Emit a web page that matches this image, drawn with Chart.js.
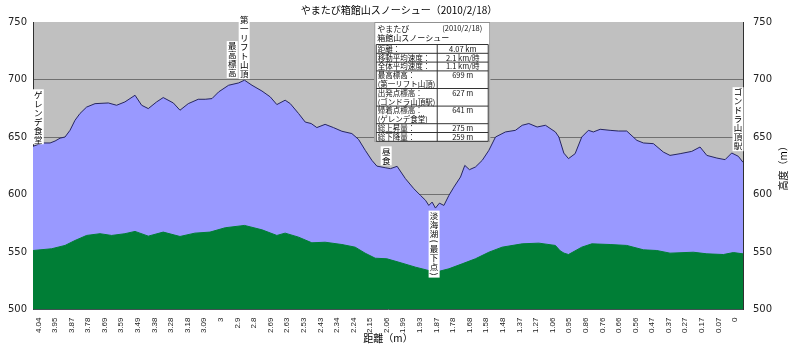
<!DOCTYPE html>
<html>
<head>
<meta charset="utf-8">
<title>やまたび箱館山スノーシュー</title>
<script src="https://cdn.jsdelivr.net/npm/chart.js@4.4.1/dist/chart.umd.min.js"></script>
<style>
  html, body { margin: 0; padding: 0; background: #fff; }
</style>
</head>
<body>
<canvas id="profileChart" width="794" height="351"></canvas>
<script>
// distance labels (km), one per tick step
const tickLabels = ['4.04','3.95','3.87','3.78','3.69','3.59','3.49','3.38','3.28','3.18',
  '3.09','3','2.9','2.8','2.69','2.63','2.53','2.43','2.34','2.24',
  '2.15','2.06','1.99','1.93','1.87','1.78','1.68','1.58','1.48','1.37',
  '1.27','1.06','0.95','0.86','0.76','0.66','0.56','0.47','0.37','0.27',
  '0.17','0.07','0'];

// elevation profile: position along the axis (in tick steps) and height (m)
const profilePos = [-0.32,0,0.3,0.71,1.01,1.31,1.61,1.91,2.21,2.51,2.91,3.42,4.22,4.72,5.22,5.83,6.23,6.63,7.13,7.53,
  8.14,8.54,9.04,9.64,10.06,10.47,10.87,11.47,12.07,12.43,12.88,13.48,13.98,14.38,14.88,15.19,15.69,16.09,16.45,16.79,
  17.29,17.79,18.3,18.9,19.3,19.71,20.11,20.41,20.91,21.23,21.63,22.13,22.64,23.04,23.34,23.54,23.74,23.94,24.18,24.45,
  24.75,25.05,25.45,25.71,25.99,26.35,26.76,27.16,27.56,28.16,28.76,29.17,29.57,30.07,30.57,31.17,31.38,31.68,31.96,32.36,
  32.76,33.16,33.46,33.87,34.47,34.97,35.47,36.08,36.48,37.08,37.68,38.08,38.69,39.39,39.89,40.3,40.9,41.4,41.8,42.2,42.48];
const elevation = [641.9,643.6,644.8,644.8,646.5,649,650,655.8,664.5,670.4,676,679,679.6,677.6,680.5,686.3,677.6,674.7,680.5,684.3,
  679.6,673.3,679,682.8,682.8,683.4,689.2,695,697,699.4,695,690,684.9,678.2,682,679,670.4,663,661.7,658.2,
  661,658.2,655,653,648,638.4,629.7,624.7,623.3,622.5,624.5,613.8,605,599.2,595,590.5,593.4,588.2,592.5,590.5,
  599.2,606.4,615.2,625.3,621.6,623.9,629.7,638.4,650,654.4,655.8,660.2,661.7,658.7,660.2,654.4,650,636,631.2,635.5,
  650,655.8,654.4,656.7,655.8,655.2,655.2,647.1,644.8,644.2,636.9,634,635.5,637.5,641.3,634,631.7,630.3,636.1,633.2,628];

// lower (green) series
const lowerPos = [-0.32,0.8,1.61,2.21,2.91,3.72,4.42,5.22,5.83,6.63,7.53,8.54,9.44,10.35,11.27,12.43,13.48,14.38,14.88,15.69,
  16.49,17.29,18.3,19.1,19.7,20.31,21.01,21.74,22.74,23.94,24.75,25.55,26.35,27.16,27.96,29.17,30.17,31.17,31.46,31.69,
  31.96,32.76,33.37,34.47,35.47,36.48,37.28,38.08,39.49,40.3,41.3,41.9,42.48];
const lower = [551.3,552.8,555.7,560,564.4,565.9,564.4,565.9,567.9,563.8,567.3,563.5,566.4,567.3,571.1,573.1,569.3,564.4,566.4,562.9,
  558,558.5,556.5,554.2,549,544.6,544.1,541.1,536.8,532.4,535.4,539.7,544.1,549.8,554.2,557.1,557.7,555.7,551,549,
  547.8,554.2,557.1,556.5,555.7,551.9,551.3,549,549.8,548.4,547.8,549.5,548.4];

// vertical place names: position (tick steps) and top of the label (m)
const notes = [
  { text: 'ゲレンデ食堂', x: 0, top: 691.5 },
  { text: '最高標高', x: 11.69, top: 733.4 },
  { text: '第一リフト山頂', x: 12.41, top: 756 },
  { text: '昼食', x: 20.97, top: 641.9 },
  { text: '淡海湖(最下点)', x: 23.86, top: 586 },
  { text: 'ゴンドラ山頂駅', x: 42.18, top: 693.3 }
];

const infoHead = ['やまたび', '箱館山スノーシュー'];
const infoDate = '(2010/2/18)';
const infoRows = [
  [['距離：'], '4.07 km'],
  [['移動平均速度：'], '2.1 km/時'],
  [['全体平均速度：'], '1.1 km/時'],
  [['最高標高：', '(第一リフト山頂)'], '699 m'],
  [['出発点標高：', '(ゴンドラ山頂駅)'], '627 m'],
  [['帰着点標高：', '(ゲレンデ食堂)'], '641 m'],
  [['総上昇量：'], '275 m'],
  [['総下降量：'], '259 m']
];

const JP = '"Noto Sans CJK JP", "Noto Sans", sans-serif';

const toPts = (xs, ys) => xs.map((x, i) => ({ x: x, y: ys[i] }));

// grey plot background
const plotBg = {
  id: 'plotBg',
  beforeDraw(chart) {
    const a = chart.chartArea, c = chart.ctx;
    c.save();
    c.fillStyle = '#c0c0c0';
    c.fillRect(a.left, a.top, a.right - a.left, a.bottom - a.top);
    c.restore();
  }
};

// title, place names, info box, right axis title
const overlay = {
  id: 'overlay',
  afterDraw(chart) {
    const c = chart.ctx, a = chart.chartArea;
    const xs = chart.scales.x, ys = chart.scales.y;
    c.save();

    c.fillStyle = '#000';
    c.font = '10px ' + JP;
    c.textAlign = 'center';
    c.textBaseline = 'middle';
    c.fillText('やまたび箱館山スノーシュー（2010/2/18）', 399, 10);

    // vertical labels, brackets turned sideways
    notes.forEach(n => {
      const cx = xs.getPixelForValue(n.x);
      const top = ys.getPixelForValue(n.top);
      const chars = Array.from(n.text);
      const steps = chars.map(ch => (ch === '(' || ch === ')') ? 6 : 9);
      const h = steps.reduce((s, v) => s + v, 0);
      c.fillStyle = '#fff';
      c.fillRect(cx - 5.5, top, 11, h + 1);
      c.fillStyle = '#000';
      c.font = '8.5px ' + JP;
      let y = top;
      chars.forEach((ch, i) => {
        const cy = y + steps[i] / 2 + 0.5;
        if (ch === '(' || ch === ')') {
          c.save();
          c.translate(cx, cy);
          c.rotate(Math.PI / 2);
          c.fillText(ch, 0, 0);
          c.restore();
        } else {
          c.fillText(ch, cx, cy);
        }
        y += steps[i];
      });
    });

    // info box
    const L = xs.getPixelForValue(20.25), T = a.top;
    const W = 116, lh = 8.8;
    const tL = L + 2, tR = L + W - 2, div = L + 63;
    let rowsH = 0;
    infoRows.forEach(r => { rowsH += r[0].length * lh; });
    const tableTop = T + 22.5;
    const H = 22.5 + rowsH + 1;
    c.fillStyle = '#fff';
    c.fillRect(L, T, W, H);
    c.strokeStyle = '#909090';
    c.lineWidth = 1;
    c.strokeRect(L + 0.5, T + 0.5, W - 1, H - 1);

    c.font = '8px ' + JP;
    c.fillStyle = '#111';
    c.textAlign = 'left';
    c.fillText(infoHead[0], tL + 1, T + 6.5);
    c.fillText(infoHead[1], tL + 1, T + 15.5);
    c.textAlign = 'center';
    c.font = '7.5px ' + JP;
    c.fillText(infoDate, L + 88, T + 6.5);

    c.strokeStyle = '#333';
    c.beginPath();
    c.moveTo(tL, tableTop); c.lineTo(tR, tableTop);
    let y = tableTop;
    infoRows.forEach(r => {
      const rh = r[0].length * lh;
      c.textAlign = 'left';
      r[0].forEach((line, k) => c.fillText(line, tL + 1.5, y + lh / 2 + k * lh));
      c.textAlign = 'center';
      c.fillText(r[1], (div + tR) / 2, y + lh / 2);
      y += rh;
      c.moveTo(tL, y); c.lineTo(tR, y);
    });
    c.moveTo(tL, tableTop); c.lineTo(tL, y);
    c.moveTo(div, tableTop); c.lineTo(div, y);
    c.moveTo(tR, tableTop); c.lineTo(tR, y);
    c.stroke();

    // right axis title, reading bottom to top
    c.translate(783, (a.top + a.bottom) / 2);
    c.rotate(-Math.PI / 2);
    c.font = '10px ' + JP;
    c.fillStyle = '#000';
    c.textAlign = 'center';
    c.fillText('高度（m）', 0, 0);
    c.restore();
  }
};

const ctx = document.getElementById('profileChart').getContext('2d');
const profileChart = new Chart(ctx, {
  type: 'line',
  data: {
    datasets: [
      {
        label: 'lower',
        data: toPts(lowerPos, lower),
        fill: 'start',
        backgroundColor: '#007e36',
        borderColor: '#007e36',
        borderWidth: 1,
        pointRadius: 0,
        tension: 0
      },
      {
        label: '標高',
        data: toPts(profilePos, elevation),
        fill: 'start',
        backgroundColor: '#9999ff',
        borderColor: '#262660',
        borderWidth: 1,
        pointRadius: 0,
        tension: 0
      }
    ]
  },
  options: {
    responsive: false,
    animation: false,
    layout: { padding: { top: 22, left: 0, right: 0, bottom: 0 } },
    plugins: {
      legend: { display: false },
      tooltip: { enabled: false }
    },
    scales: {
      x: {
        type: 'linear',
        min: -0.32,
        max: 42.48,
        afterBuildTicks: axis => { axis.ticks = tickLabels.map((_, i) => ({ value: i })); },
        afterFit: axis => { axis.height = 41.5; },
        grid: { display: false, drawTicks: false },
        border: { color: '#404040' },
        ticks: {
          autoSkip: false,
          minRotation: 90,
          maxRotation: 90,
          padding: 8,
          color: '#222',
          font: { family: '"Liberation Sans", Arial, sans-serif', size: 8 },
          callback: v => tickLabels[v]
        },
        title: {
          display: true,
          text: '距離（m）',
          color: '#000',
          font: { family: JP, size: 10 },
          padding: { top: 0, bottom: 7 }
        }
      },
      y: {
        position: 'left',
        min: 500,
        max: 750,
        afterFit: axis => { axis.width = 33; },
        grid: {
          drawTicks: false,
          color: c => (c.tick && (c.tick.value === 500 || c.tick.value === 750)) ? 'rgba(0,0,0,0)' : '#707070'
        },
        border: { color: '#303030' },
        ticks: {
          stepSize: 50,
          padding: 6,
          color: '#222',
          font: { family: '"DejaVu Sans", sans-serif', size: 10 }
        }
      },
      y2: {
        position: 'right',
        min: 500,
        max: 750,
        afterFit: axis => { axis.width = 51; },
        grid: { drawOnChartArea: false, drawTicks: false },
        border: { color: '#303030' },
        ticks: {
          stepSize: 50,
          padding: 10,
          color: '#222',
          font: { family: '"DejaVu Sans", sans-serif', size: 10 }
        }
      }
    }
  },
  plugins: [plotBg, overlay]
});
</script>
</body>
</html>
